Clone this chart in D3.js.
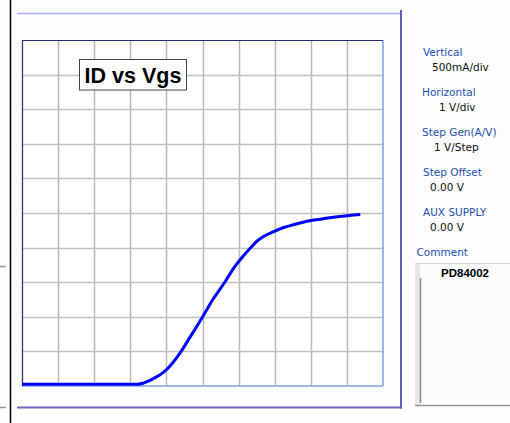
<!DOCTYPE html>
<html><head><meta charset="utf-8">
<script src="https://cdn.jsdelivr.net/npm/d3@7/dist/d3.min.js"></script>
<style>
html,body{margin:0;padding:0;background:#fdfdfd;}
svg{display:block;}
</style></head>
<body>
<svg id="c" width="510" height="423"></svg>
<script>
// ---- data ----
const vgs = [0, 1.0, 2.0, 3.0, 3.2, 3.35, 3.5, 3.65, 3.8, 3.95, 4.10, 4.38, 4.66, 4.98, 5.30, 5.63, 5.86, 6.10, 6.32, 6.50, 6.69, 6.97, 7.25, 7.52, 7.90, 8.26, 8.63, 9.00, 9.37];
const id  = [0.025, 0.025, 0.025, 0.025, 0.027, 0.04, 0.07, 0.11, 0.155, 0.21, 0.29, 0.48, 0.71, 0.98, 1.26, 1.51, 1.70, 1.86, 1.99, 2.09, 2.16, 2.23, 2.29, 2.33, 2.38, 2.41, 2.44, 2.46, 2.48];
const xTicks = [0,1,2,3,4,5,6,7,8,9,10];
const yTicks = [0,0.5,1,1.5,2,2.5,3,3.5,4,4.5,5];
const title = "ID vs Vgs";
const panelLabels = ["Vertical","Horizontal","Step Gen(A/V)","Step Offset","AUX SUPPLY"];
const panelValues = ["500mA/div","1 V/div","1 V/Step","0.00 V","0.00 V"];
const commentLabel = "Comment";
const commentText = "PD84002";

const svg = d3.select("#c");
const L = 22, R = 383, T = 40, B = 386;
const x = d3.scaleLinear().domain([0,10]).range([L,R]);
const y = d3.scaleLinear().domain([0,5]).range([B,T]);

// left divider & small marks
svg.append("line").attr("x1",10.5).attr("x2",10.5).attr("y1",0).attr("y2",423).attr("stroke","#000").attr("stroke-width",1.5);
[266.5,407.5].forEach(v=>svg.append("line").attr("x1",0).attr("x2",6).attr("y1",v).attr("y2",v).attr("stroke","#999").attr("stroke-width",1.5));

// outer frame
svg.append("line").attr("x1",17).attr("x2",401).attr("y1",13.5).attr("y2",13.5).attr("stroke","#a9aef0").attr("stroke-width",1.5);
svg.append("line").attr("x1",401).attr("x2",401).attr("y1",10).attr("y2",408.5).attr("stroke","#5e5eb6").attr("stroke-width",2);
svg.append("line").attr("x1",17).attr("x2",402).attr("y1",407.5).attr("y2",407.5).attr("stroke","#6a6ab8").attr("stroke-width",2);

// plot background
svg.append("rect").attr("x",L).attr("y",T).attr("width",R-L).attr("height",B-T).attr("fill","#fff");

// grid
const g = svg.append("g");
g.selectAll("line.v").data(xTicks.slice(1,-1)).enter().append("line")
  .attr("x1",d=>Math.round(x(d))+0.5).attr("x2",d=>Math.round(x(d))+0.5).attr("y1",T).attr("y2",B)
  .attr("stroke","#b8b8b8").attr("stroke-width",1.5);
g.selectAll("line.h").data(yTicks.slice(1,-1)).enter().append("line")
  .attr("y1",d=>Math.round(y(d))+0.5).attr("y2",d=>Math.round(y(d))+0.5).attr("x1",L).attr("x2",R)
  .attr("stroke","#c0c0c0").attr("stroke-width",1.5);

// plot border
svg.append("line").attr("x1",L).attr("x2",R).attr("y1",B).attr("y2",B).attr("stroke","#7f9fe0").attr("stroke-width",1.5);
svg.append("line").attr("x1",R).attr("x2",R).attr("y1",T).attr("y2",B).attr("stroke","#7f9fe0").attr("stroke-width",1.5);
svg.append("line").attr("x1",L).attr("x2",R).attr("y1",T+0.5).attr("y2",T+0.5).attr("stroke","#243070").attr("stroke-width",1);
svg.append("line").attr("x1",L+0.5).attr("x2",L+0.5).attr("y1",T).attr("y2",B).attr("stroke","#2a3a80").attr("stroke-width",1.3);

// curve
const pts = vgs.map((v,i)=>[v,id[i]]);
svg.append("path").datum(pts)
  .attr("d", d3.line().x(d=>x(d[0])).y(d=>y(d[1])).curve(d3.curveMonotoneX))
  .attr("fill","none").attr("stroke","#0000ff").attr("stroke-width",3).attr("stroke-linejoin","round");

// title box
svg.append("rect").attr("x",79.5).attr("y",59.5).attr("width",107).attr("height",30.5)
  .attr("fill","#fff").attr("stroke","#444").attr("stroke-width",1);
svg.append("text").attr("x",133).attr("y",82.5).attr("text-anchor","middle")
  .attr("font-family","Liberation Sans, Arial, sans-serif").attr("font-weight","bold").attr("font-size",21.5)
  .attr("fill","#000").text(title);

// right panel
const labelX = [423,422,422,423,423];
const valueX = [432,439,434,430,430];
const font = "DejaVu Sans, Verdana, sans-serif";
panelLabels.forEach((t,i)=>{
  svg.append("text").attr("x",labelX[i]).attr("y",56+40*i).attr("font-family",font).attr("font-size",10.5)
    .attr("fill","#2350b0").text(t);
  svg.append("text").attr("x",valueX[i]).attr("y",71+40*i).attr("font-family",font).attr("font-size",10.5)
    .attr("fill","#111").text(panelValues[i]);
});
svg.append("text").attr("x",416.5).attr("y",256).attr("font-family",font).attr("font-size",10.5)
  .attr("fill","#2350b0").text(commentLabel);

// comment box
svg.append("rect").attr("x",415).attr("y",263).attr("width",96).attr("height",142).attr("fill","#fcfcfc");
svg.append("rect").attr("x",415).attr("y",263).attr("width",5).attr("height",142).attr("fill","#e6e6e6");
svg.append("line").attr("x1",415).attr("x2",510).attr("y1",263.5).attr("y2",263.5).attr("stroke","#d8d8d8");
svg.append("line").attr("x1",420.5).attr("x2",420.5).attr("y1",278).attr("y2",403).attr("stroke","#8a8a8a").attr("stroke-width",1.5);
svg.append("line").attr("x1",415).attr("x2",510).attr("y1",405.5).attr("y2",405.5).attr("stroke","#999").attr("stroke-width",1.5);
svg.append("text").attr("x",465).attr("y",277).attr("text-anchor","middle")
  .attr("font-family","Liberation Sans, Arial, sans-serif").attr("font-weight","bold").attr("font-size",11.5)
  .attr("fill","#000").text(commentText);
</script>
</body></html>
